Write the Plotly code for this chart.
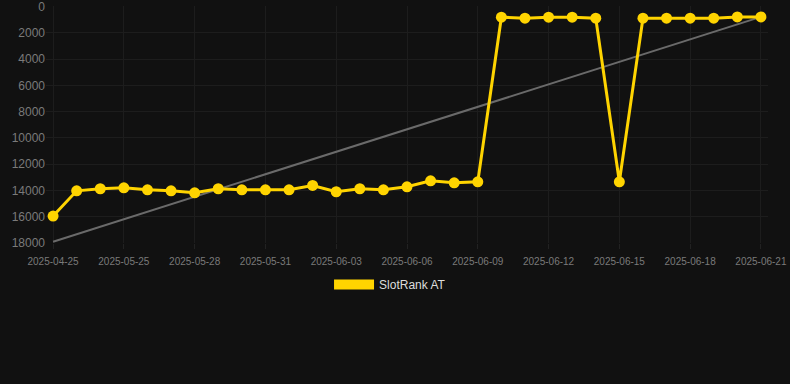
import plotly.graph_objects as go

dates = ["2025-04-25", "2025-05-23", "2025-05-24", "2025-05-25", "2025-05-26", "2025-05-27",
         "2025-05-28", "2025-05-29", "2025-05-30", "2025-05-31", "2025-06-01", "2025-06-02",
         "2025-06-03", "2025-06-04", "2025-06-05", "2025-06-06", "2025-06-07", "2025-06-08",
         "2025-06-09", "2025-06-10", "2025-06-11", "2025-06-12", "2025-06-13", "2025-06-14",
         "2025-06-15", "2025-06-16", "2025-06-17", "2025-06-18", "2025-06-19", "2025-06-20",
         "2025-06-21"]
rank = [15950, 14030, 13870, 13800, 13950, 14030, 14180, 13870, 13950, 13950, 13950, 13620,
        14100, 13870, 13950, 13720, 13270, 13420, 13340, 810, 890, 810, 810, 890,
        13340, 890, 890, 890, 890, 790, 790]
trend_x = ["2025-04-25", "2025-06-21"]
trend_y = [17900, 790]
tick_labels = ["2025-04-25", "2025-05-25", "2025-05-28", "2025-05-31", "2025-06-03", "2025-06-06",
               "2025-06-09", "2025-06-12", "2025-06-15", "2025-06-18", "2025-06-21"]
y_ticks = [0, 2000, 4000, 6000, 8000, 10000, 12000, 14000, 16000, 18000]

YELLOW = "#FFD400"

fig = go.Figure()
fig.add_trace(go.Scatter(x=trend_x, y=trend_y, mode="lines",
                         line=dict(color="#6a6a6a", width=2), showlegend=False, hoverinfo="skip"))
fig.add_trace(go.Scatter(x=dates, y=rank, mode="lines+markers",
                         line=dict(color=YELLOW, width=3),
                         marker=dict(color=YELLOW, size=11),
                         showlegend=False, name="SlotRank AT"))
fig.add_trace(go.Scatter(x=[None], y=[None], mode="lines",
                         line=dict(color=YELLOW, width=12), name="SlotRank AT", showlegend=True))

fig.update_layout(
    width=790, height=384,
    paper_bgcolor="#111111", plot_bgcolor="#111111",
    margin=dict(l=46, r=22, t=6, b=141, autoexpand=False),
    font=dict(family="Arial, Liberation Sans, sans-serif", color="#888888"),
    showlegend=True,
    legend=dict(orientation="h", x=0.4765, xanchor="center", y=-0.114, yanchor="top",
                font=dict(color="#dddddd", size=12), itemwidth=40,
                bgcolor="rgba(0,0,0,0)"),
    xaxis=dict(type="category", categoryorder="array", categoryarray=dates,
               range=[-0.3, 30.3],
               tickmode="array", tickvals=tick_labels, ticktext=tick_labels,
               tickfont=dict(size=10, color="#7a7a7a"), tickangle=0,
               showgrid=True, gridcolor="#1d1d1d", zeroline=False, showline=False,
               ticks="outside", ticklen=5, tickcolor="#222222", ticklabelstandoff=4),
    yaxis=dict(range=[18000, -40], tickmode="array", tickvals=y_ticks, tickformat="d",
               tickfont=dict(size=12, color="#7a7a7a"), ticklabeloverflow="allow",
               showgrid=True, gridcolor="#1d1d1d", zeroline=False, showline=False,
               ticks="", ticklen=0),
)

fig.write_html("out.html", config={"displayModeBar": False},
               post_script="document.body.style.margin='0';document.body.style.background='#111111';")
